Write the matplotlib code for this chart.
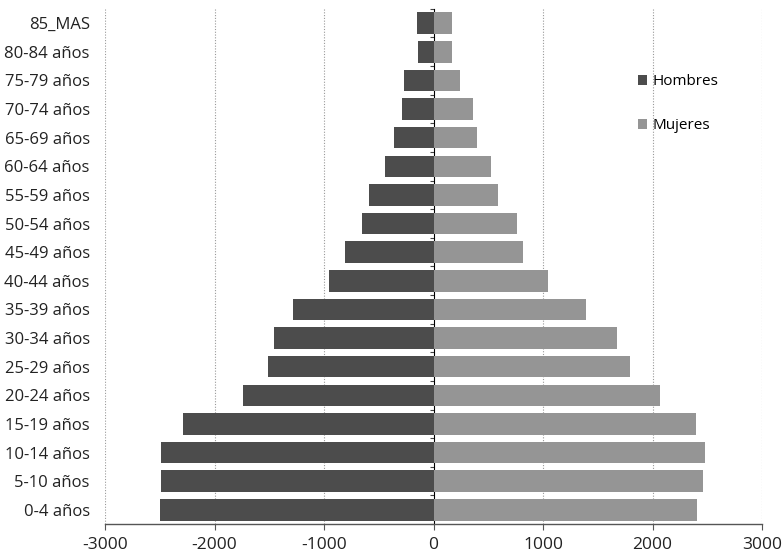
import matplotlib
matplotlib.use('Agg')
import matplotlib.pyplot as plt
import numpy as np

# age groups, bottom to top
grupos = ['0-4 años', '5-10 años', '10-14 años', '15-19 años', '20-24 años',
          '25-29 años', '30-34 años', '35-39 años', '40-44 años', '45-49 años',
          '50-54 años', '55-59 años', '60-64 años', '65-69 años', '70-74 años',
          '75-79 años', '80-84 años', '85_MAS']

hombres = [-2500, -2485, -2490, -2285, -1739, -1512, -1461, -1283, -955, -806,
           -650, -588, -440, -365, -292, -267, -138, -150]
mujeres = [2409, 2464, 2479, 2394, 2068, 1791, 1673, 1391, 1047, 821,
           765, 590, 521, 398, 362, 237, 167, 167]

x_ticks = [-3000, -2000, -1000, 0, 1000, 2000, 3000]

plt.rcParams['font.family'] = ['Open Sans', 'DejaVu Sans']
plt.rcParams['axes.unicode_minus'] = False

fig = plt.figure(figsize=(7.84, 5.54), dpi=100)
ax = fig.add_axes([0.134, 0.054, 0.838, 0.93])

y = np.arange(len(grupos))
ax.barh(y, hombres, height=0.75, color='#4c4c4c', label='Hombres', zorder=3)
ax.barh(y, mujeres, height=0.75, color='#959595', label='Mujeres', zorder=3)

ax.set_xlim(-3000, 3000)
ax.set_ylim(-0.5, len(grupos) - 0.5)
ax.set_xticks(x_ticks)
ax.set_yticks(y)
ax.set_yticklabels(grupos, fontsize=12, color='#222222')
ax.tick_params(axis='y', length=0, pad=11)
ax.tick_params(axis='x', direction='out', length=4, color='#555555',
               labelsize=12.5, labelcolor='#222222', pad=5.5)

# dotted vertical gridlines
for v in x_ticks:
    if v != 0:
        ax.axvline(v, color='#999999', linestyle=(0, (1, 1.5)), linewidth=0.8, zorder=1)

# category axis sits on x=0 with small ticks between groups
zero_ax = ax.secondary_yaxis(0.5)
zero_ax.set_yticks(np.arange(len(grupos) + 1) - 0.5)
zero_ax.tick_params(axis='y', direction='in', length=3, color='#444444',
                    labelleft=False, labelright=False)
zero_ax.spines['left'].set_color('#444444')
zero_ax.spines['left'].set_linewidth(1.0)
zero_ax.spines['left'].set_zorder(5)

for s in ['top', 'right', 'left']:
    ax.spines[s].set_visible(False)
ax.spines['bottom'].set_color('#555555')
ax.spines['bottom'].set_linewidth(1.0)

ax.legend(loc='upper left', bbox_to_anchor=(0.79, 0.9), frameon=False,
          fontsize=11, handlelength=0.6, handleheight=0.6, handletextpad=0.35,
          labelspacing=1.9)

fig.savefig('out.png', dpi=100)
